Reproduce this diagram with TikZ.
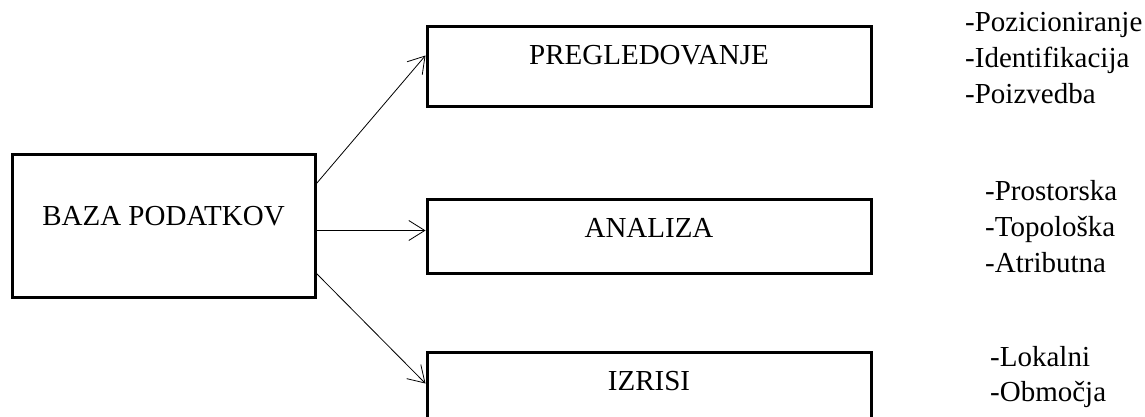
\documentclass[tikz,border=0pt]{standalone}
\usepackage{fontspec}
\setmainfont{Liberation Serif}
\usetikzlibrary{arrows.meta}
\begin{document}
\begin{tikzpicture}[x=1pt,y=-1pt,
  box/.style={draw=black,line width=3pt,rectangle,inner sep=0pt},
  boxtext/.style={anchor=base,inner sep=0pt,font=\fontsize{29}{33}\selectfont},
  listtext/.style={anchor=base west,inner sep=0pt,font=\fontsize{29}{33}\selectfont},
  arr/.style={line width=0.8pt,-{Straight Barb[length=16pt,width=20pt,line width=0.8pt]}}]
\clip (0,0) rectangle (1145,417);
\fill[white] (0,0) rectangle (1145,417);

% boxes
\node[box,minimum width=303pt,minimum height=143pt] (baza) at (163.5,225.5) {};
\node[box,minimum width=444pt,minimum height=80pt] (preg) at (649,67) {};
\node[box,minimum width=444pt,minimum height=74pt] (ana) at (649,236) {};
\node[box,minimum width=444pt,minimum height=80pt] (izr) at (649,392) {};

% box captions
\node[boxtext] (tbaza) at (163.5,225) {BAZA PODATKOV};
\node[boxtext] (tpreg) at (649,65) {PREGLEDOVANJE};
\node[boxtext] (tana) at (649,237) {ANALIZA};
\node[boxtext] (tizr) at (649,390) {IZRISI};

% connectors (canvas y points up, so downward shifts are negative)
\coordinate (pregIn) at ([yshift=-30pt]preg.north west);
\coordinate (anaIn) at ([yshift=-33pt]ana.north west);
\coordinate (izrIn) at ([yshift=-33pt]izr.north west);
\coordinate (bazaUp) at ([yshift=-31pt]baza.north east);
\coordinate (bazaDown) at ([yshift=25pt]baza.south east);
\draw[arr] (bazaUp) -- (pregIn);
\draw[arr] (baza.east |- anaIn) -- (anaIn);
\draw[arr] (bazaDown) -- (izrIn);

% item lists
\node[listtext] (l1) at (965,32) {-Pozicioniranje};
\node[listtext] (l2) at (965,68) {-Identifikacija};
\node[listtext] (l3) at (965,103) {-Poizvedba};
\node[listtext] (l4) at (985,200) {-Prostorska};
\node[listtext] (l5) at (985,236) {-Topološka};
\node[listtext] (l6) at (985,272) {-Atributna};
\node[listtext] (l7) at (990,366) {-Lokalni};
\node[listtext] (l8) at (990,401) {-Območja};
\end{tikzpicture}
\end{document}
